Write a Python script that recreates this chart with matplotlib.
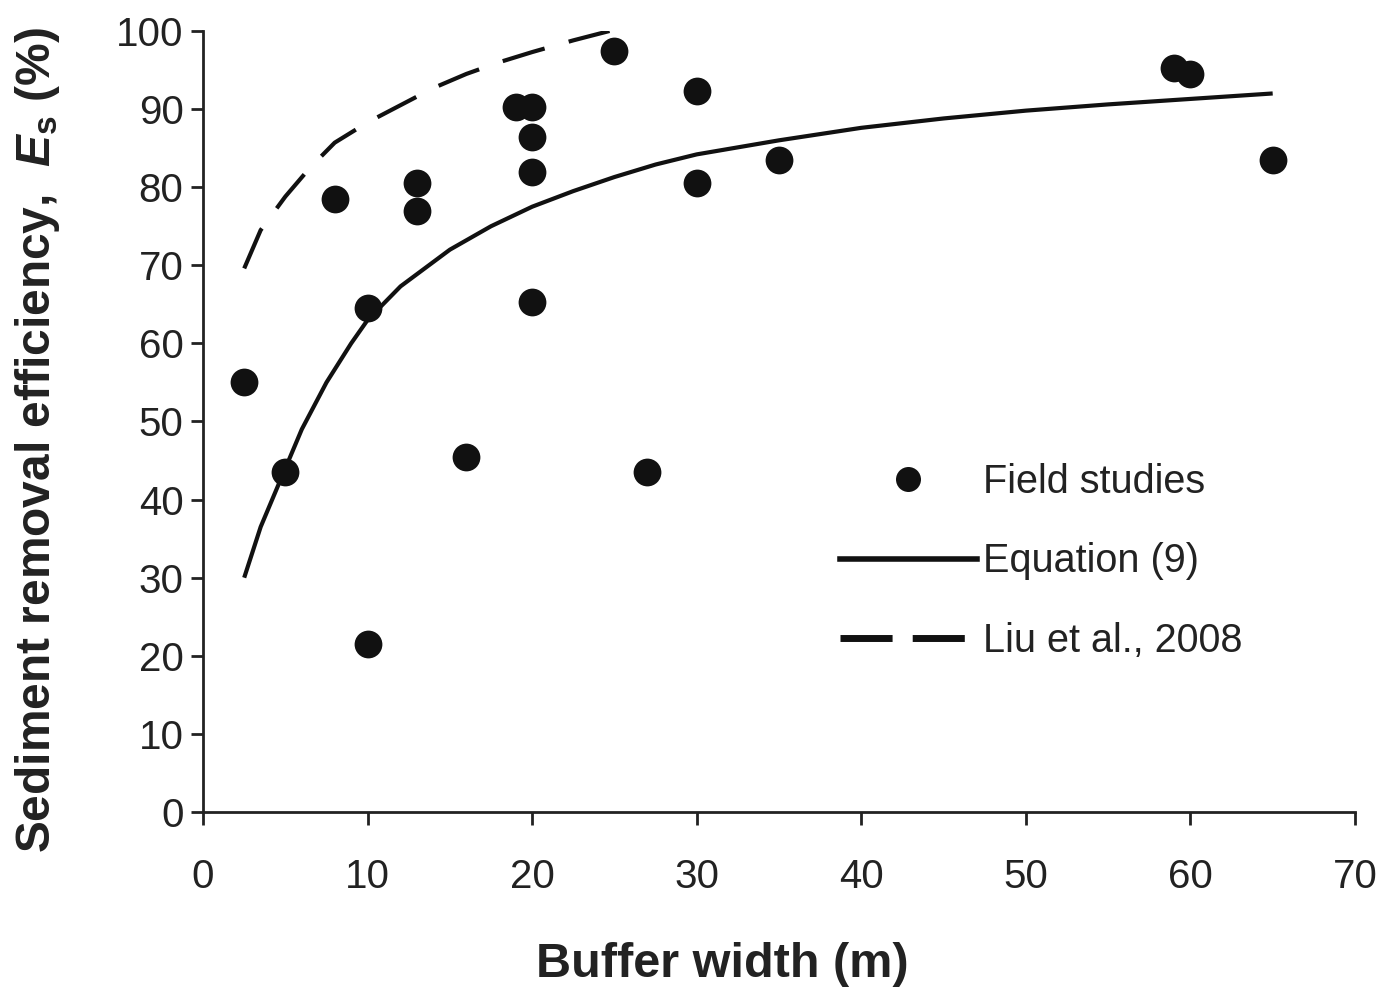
"""
Sediment removal efficiency vs buffer width: field studies and two model curves
"""
import matplotlib
matplotlib.use("Agg")
import matplotlib.pyplot as plt
from matplotlib.lines import Line2D

plt.rcParams["font.family"] = ["Liberation Sans", "DejaVu Sans"]
plt.rcParams["mathtext.fontset"] = "custom"
plt.rcParams["mathtext.it"] = "Liberation Sans:italic:bold"
plt.rcParams["mathtext.rm"] = "Liberation Sans:bold"

# field observations
field_width = [2.5, 5, 8, 10, 10, 13, 13, 16, 19, 20, 20, 20, 20, 25, 27, 30, 30, 35, 59, 60, 65]
field_eff = [55, 43.5, 78.5, 21.5, 64.5, 80.5, 77, 45.5, 90.3, 90.3, 86.4, 82, 65.3, 97.4, 43.5, 92.3, 80.5, 83.5, 95.3, 94.5, 83.5]

# Equation (9) curve
eq_width = [2.5, 3.5, 5, 6, 7.5, 9, 10, 12, 15, 17.5, 20, 22.5, 25, 27.5, 30, 35, 40, 45, 50, 55, 60, 65]
eq_eff = [30, 36.5, 44, 49, 55, 60, 63, 67.3, 72, 75, 77.5, 79.5, 81.3, 82.9, 84.2, 86, 87.6, 88.8, 89.8, 90.6, 91.3, 92]

# Liu et al., 2008 curve
liu_width = [2.5, 3.5, 5, 6.5, 8, 10, 12, 14, 16, 18, 20, 22.5, 24.7]
liu_eff = [69.6, 74.5, 78.8, 82.5, 85.7, 88.3, 90.5, 92.7, 94.5, 96, 97.3, 98.8, 100]

xticks = list(range(0, 71, 10))
yticks = list(range(0, 101, 10))

fig = plt.figure(figsize=(13.88, 9.93), dpi=100)
ax = fig.add_axes([0.1463, 0.1823, 0.9762 - 0.1463, 0.9688 - 0.1823])

ax.plot(eq_width, eq_eff, color="#111111", lw=3, solid_capstyle="butt")
ax.plot(liu_width, liu_eff, color="#111111", lw=3, dashes=(10.5, 6))
ax.plot(field_width, field_eff, "o", color="#111111", ms=20, mew=0)

ax.set_xlim(0, 70)
ax.set_ylim(0, 100)
ax.set_xticks(xticks)
ax.set_yticks(yticks)
ax.tick_params(direction="out", length=9, width=2, labelsize=29, colors="#222222")
ax.tick_params(axis="x", pad=24)
ax.tick_params(axis="y", pad=5)
for side in ["top", "right"]:
    ax.spines[side].set_visible(False)
for side in ["left", "bottom"]:
    ax.spines[side].set_linewidth(2)
    ax.spines[side].set_color("#222222")

ax.set_xlabel("Buffer width (m)", fontsize=35, fontweight="bold", color="#222222")
ax.xaxis.set_label_coords(0.4505, -0.166)
ax.set_ylabel(r"Sediment removal efficiency,  $E_\mathrm{s}$ (%)", fontsize=34.5,
              fontweight="bold", color="#222222")
ax.yaxis.set_label_coords(-0.1224, 0.476)

handles = [
    Line2D([], [], ls="none", marker="o", ms=18, mew=0, color="#111111"),
    Line2D([], [], color="#111111", lw=4),
    Line2D([], [], color="#111111", lw=5, dashes=(7.5, 2.9)),
]
labels = ["Field studies", "Equation (9)", "Liu et al., 2008"]
ax.legend(handles, labels, loc="upper left", bbox_to_anchor=(0.553, 0.447), frameon=False,
          fontsize=28.5, handlelength=3.45, handletextpad=0.15, labelspacing=1.05, borderpad=0,
          borderaxespad=0, labelcolor="#222222")

plt.savefig("out.png", dpi=100)
